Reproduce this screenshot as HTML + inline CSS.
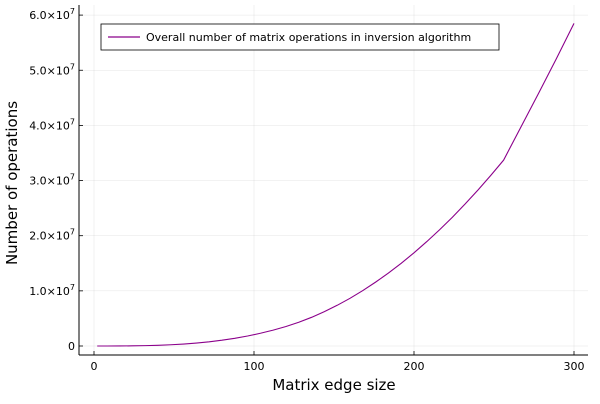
<!DOCTYPE html>
<html><head><meta charset="utf-8"><style>
body{margin:0;background:#fff;font-family:"DejaVu Sans","Liberation Sans",sans-serif}
</style></head><body>
<svg id="chart" width="600" height="400" xmlns="http://www.w3.org/2000/svg" font-family="DejaVu Sans, Liberation Sans, sans-serif">
<rect width="600" height="400" fill="#fff"/>
<g id="grid"></g><g id="axes"></g><g id="series"></g>
<g>
<rect x="101" y="24" width="398" height="26" fill="#fff" stroke="#000" stroke-width="0.8"/>
<line x1="108" y1="37" x2="140" y2="37" stroke="#8b008b" stroke-width="1.2"/>
<text x="146" y="41" font-size="11" fill="#000">Overall number of matrix operations in inversion algorithm</text>
</g>
<text x="334" y="390" font-size="15" text-anchor="middle">Matrix edge size</text>
<text transform="translate(17,183) rotate(-90)" font-size="15" text-anchor="middle">Number of operations</text>
</svg>
<script>
const xs=[2,8,16,24,32,40,48,56,64,72,80,88,96,104,112,120,128,136,144,152,160,168,176,184,192,200,208,216,224,232,240,248,256,267,278,289,300];
const vals=[0,0.001e6,0.0084e6,0.028e6,0.067e6,0.131e6,0.227e6,0.36e6,0.537e6,0.765e6,1.05e6,1.40e6,1.81e6,2.31e6,2.88e6,3.54e6,4.3e6,5.2e6,6.23e6,7.38e6,8.65e6,10.05e6,11.58e6,13.22e6,15.0e6,16.9e6,18.93e6,21.08e6,23.35e6,25.76e6,28.28e6,30.93e6,33.7e6,39.8e6,45.9e6,52.1e6,58.5e6];
const xTicks=[0,100,200,300];
const yTicks=[0,1e7,2e7,3e7,4e7,5e7,6e7];
const yLabels=["0","1.0","2.0","3.0","4.0","5.0","6.0"];
const X=v=>94+v*1.6, Y=v=>346-v/1e7*55.15;
const ns="http://www.w3.org/2000/svg";
function mk(t,a,p){const e=document.createElementNS(ns,t);for(const k in a)e.setAttribute(k,a[k]);p.appendChild(e);return e;}
const g=document.getElementById('grid'),ax=document.getElementById('axes'),s=document.getElementById('series');
xTicks.forEach(t=>{
const l=mk('line',{x1:X(t),x2:X(t),y1:5,y2:355,stroke:'#000','stroke-opacity':0.1,'stroke-width':0.5},g);


mk('line',{x1:X(t),x2:X(t),y1:355,y2:351,stroke:'#000','stroke-width':0.8},ax);
const tx=mk('text',{x:X(t),y:370,'font-size':11,'text-anchor':'middle'},ax);tx.textContent=t;


});
yTicks.forEach((t,i)=>{
const l=mk('line',{x1:79,x2:588,y1:Y(t),y2:Y(t),stroke:'#000','stroke-opacity':0.1,'stroke-width':0.5},g);


mk('line',{x1:79,x2:83,y1:Y(t),y2:Y(t),stroke:'#000','stroke-width':0.8},ax);
const tx=mk('text',{x:75,y:Y(t)+4,'font-size':11,'text-anchor':'end'},ax);


if(t===0)tx.textContent='0';else{tx.innerHTML=yLabels[i]+'×10<tspan dy="-5" font-size="8">7</tspan>';}
});
mk('line',{x1:79,x2:588,y1:355,y2:355,stroke:'#000','stroke-width':1},ax);
mk('line',{x1:79,x2:79,y1:5,y2:355,stroke:'#000','stroke-width':1},ax);
const p=mk('polyline',{points:xs.map((x,i)=>X(x)+','+Y(vals[i])).join(' '),fill:'none',stroke:'#8b008b','stroke-width':1.1},s);


</script>
</body></html>
